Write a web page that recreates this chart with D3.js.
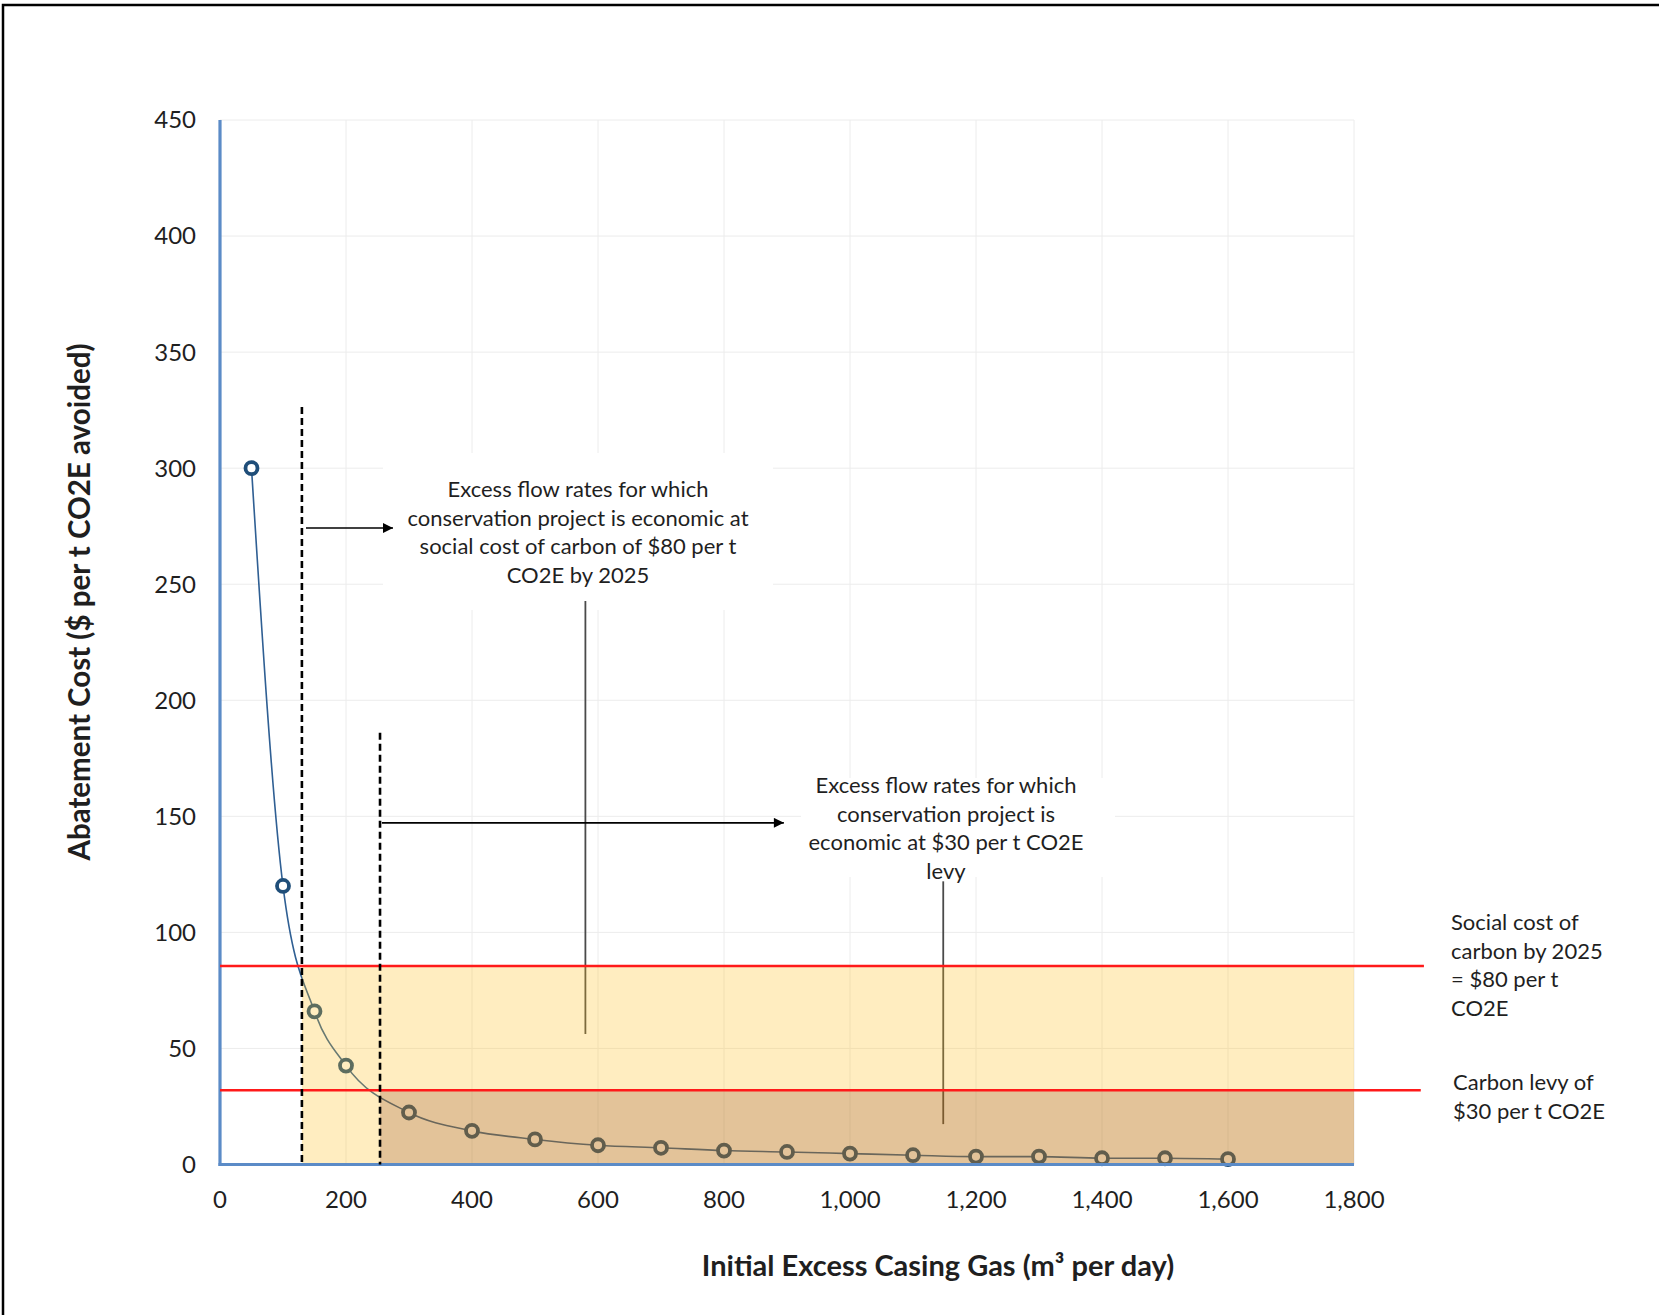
<!DOCTYPE html>
<html>
<head>
<meta charset="utf-8">
<script src="https://cdn.jsdelivr.net/npm/d3@7"></script>
<style>
  html, body { margin: 0; padding: 0; background: #ffffff; }
  svg { display: block; }
  text { font-family: Lato, "Open Sans", sans-serif; fill: #1f1f1f; }
</style>
</head>
<body>
<svg id="chart" width="1659" height="1315"></svg>
<script>
// ---------------- data ----------------
const flowRates = [50, 100, 150, 200, 300, 400, 500, 600, 700, 800, 900, 1000, 1100, 1200, 1300, 1400, 1500, 1600];
const abatementCost = [300, 120, 66, 42.6, 22.4, 14.5, 10.8, 8.3, 7.2, 6.0, 5.4, 4.7, 4.0, 3.4, 3.4, 2.7, 2.7, 2.3];

const xTickValues = [0, 200, 400, 600, 800, 1000, 1200, 1400, 1600, 1800];
const yTickValues = [0, 50, 100, 150, 200, 250, 300, 350, 400, 450];

const socialCostLevel = 85.5;   // drawn level of the "$80" social cost line
const carbonLevyLevel = 32;     // drawn level of the "$30" levy line
const socialThreshold = 130;    // flow rate where curve meets social cost line
const levyThreshold = 254;      // flow rate where curve meets levy line

const annotation1 = ["Excess flow rates for which", "conservation project is economic at", "social cost of carbon of $80 per t", "CO2E by 2025"];
const annotation2 = ["Excess flow rates for which", "conservation project is", "economic at $30 per t CO2E", "levy"];
const socialLabel = ["Social cost of", "carbon by 2025", "= $80 per t", "CO2E"];
const levyLabel = ["Carbon levy of", "$30 per t CO2E"];
const xTitle = "Initial Excess Casing Gas (m³ per day)";
const yTitle = "Abatement Cost ($ per t CO2E avoided)";

// ---------------- layout ----------------
const svg = d3.select("#chart");
const x = d3.scaleLinear().domain([0, 1800]).range([220, 1354]);
const y = d3.scaleLinear().domain([0, 450]).range([1164.5, 120]);

// outer frame
svg.append("rect").attr("x", 3).attr("y", 5).attr("width", 1720).attr("height", 1400)
  .attr("fill", "none").attr("stroke", "#000").attr("stroke-width", 2.5);

// gridlines
const grid = svg.append("g");
grid.selectAll("line.v").data(xTickValues.filter(d => d > 0)).join("line")
  .attr("x1", d => x(d)).attr("x2", d => x(d)).attr("y1", y(450)).attr("y2", y(0))
  .attr("stroke", "#ececec").attr("stroke-width", 1);
grid.selectAll("line.h").data(yTickValues.filter(d => d > 0)).join("line")
  .attr("x1", x(0)).attr("x2", x(1800)).attr("y1", d => y(d)).attr("y2", d => y(d))
  .attr("stroke", "#ececec").attr("stroke-width", 1);

// annotation background boxes (hide gridlines)
svg.append("rect").attr("x", 383).attr("y", 453).attr("width", 390).attr("height", 157).attr("fill", "#fff");
svg.append("rect").attr("x", 801).attr("y", 778).attr("width", 314).attr("height", 99).attr("fill", "#fff");

// pointer lines
svg.append("line").attr("x1", x(580)).attr("x2", x(580)).attr("y1", y(242.8)).attr("y2", y(56.2))
  .attr("stroke", "#4a4a4a").attr("stroke-width", 1.8);
svg.append("line").attr("x1", x(1148)).attr("x2", x(1148)).attr("y1", y(122)).attr("y2", y(17.4))
  .attr("stroke", "#4a4a4a").attr("stroke-width", 1.8);

// series
const line = d3.line().x((d, i) => x(flowRates[i])).y(d => y(d)).curve(d3.curveMonotoneX);
svg.append("path").datum(abatementCost).attr("d", line)
  .attr("fill", "none").attr("stroke", "#2f5f93").attr("stroke-width", 1.6);
svg.append("g").selectAll("circle").data(abatementCost).join("circle")
  .attr("cx", (d, i) => x(flowRates[i])).attr("cy", d => y(d)).attr("r", 6)
  .attr("fill", "#fff").attr("stroke", "#1f4e79").attr("stroke-width", 3.8);

// shaded regions (translucent overlays)
svg.append("rect").attr("x", x(socialThreshold)).attr("y", y(socialCostLevel))
  .attr("width", x(1800) - x(socialThreshold)).attr("height", y(0) - y(socialCostLevel))
  .attr("fill", "rgb(255,190,27)").attr("fill-opacity", 0.28);
svg.append("rect").attr("x", x(levyThreshold)).attr("y", y(carbonLevyLevel))
  .attr("width", x(1800) - x(levyThreshold)).attr("height", y(0) - y(carbonLevyLevel))
  .attr("fill", "rgb(115,32,0)").attr("fill-opacity", 0.2);

// axes lines
svg.append("line").attr("x1", x(0)).attr("x2", x(0)).attr("y1", y(450)).attr("y2", y(0) + 1.5)
  .attr("stroke", "#5b8bc7").attr("stroke-width", 3.2);
svg.append("line").attr("x1", x(0) - 1.5).attr("x2", x(1800)).attr("y1", y(0)).attr("y2", y(0))
  .attr("stroke", "#5b8bc7").attr("stroke-width", 3.2);

// red reference lines
svg.append("line").attr("x1", x(0)).attr("x2", x(1911)).attr("y1", y(socialCostLevel)).attr("y2", y(socialCostLevel))
  .attr("stroke", "#ff1a1a").attr("stroke-width", 2.6);
svg.append("line").attr("x1", x(0)).attr("x2", x(1906)).attr("y1", y(carbonLevyLevel)).attr("y2", y(carbonLevyLevel))
  .attr("stroke", "#ff1a1a").attr("stroke-width", 2.6);

// dashed threshold lines
svg.append("line").attr("x1", x(socialThreshold)).attr("x2", x(socialThreshold)).attr("y1", y(326.4)).attr("y2", y(0))
  .attr("stroke", "#000").attr("stroke-width", 2.6).attr("stroke-dasharray", "7,4");
svg.append("line").attr("x1", x(levyThreshold)).attr("x2", x(levyThreshold)).attr("y1", y(186)).attr("y2", y(0))
  .attr("stroke", "#000").attr("stroke-width", 2.6).attr("stroke-dasharray", "7,4");

// arrows
const defs = svg.append("defs");
defs.append("marker").attr("id", "arrow").attr("viewBox", "0 0 10 10").attr("refX", 10).attr("refY", 5)
  .attr("markerWidth", 11).attr("markerHeight", 10).attr("markerUnits", "userSpaceOnUse").attr("orient", "auto")
  .append("path").attr("d", "M0,0 L10,5 L0,10 Z").attr("fill", "#000");
svg.append("line").attr("x1", x(136.5)).attr("x2", x(274.6)).attr("y1", y(274.2)).attr("y2", y(274.2))
  .attr("stroke", "#000").attr("stroke-width", 1.6).attr("marker-end", "url(#arrow)");
svg.append("line").attr("x1", x(257)).attr("x2", x(895)).attr("y1", y(147.2)).attr("y2", y(147.2))
  .attr("stroke", "#000").attr("stroke-width", 1.6).attr("marker-end", "url(#arrow)");

// tick labels
svg.append("g").selectAll("text").data(yTickValues).join("text")
  .attr("x", 196).attr("y", d => y(d)).attr("dy", "0.35em").attr("text-anchor", "end")
  .attr("font-size", 24).text(d3.format(","));
svg.append("g").selectAll("text").data(xTickValues).join("text")
  .attr("x", d => x(d)).attr("y", 1200).attr("dy", "0.35em").attr("text-anchor", "middle")
  .attr("font-size", 24).text(d3.format(","));

// axis titles
svg.append("text").attr("transform", "translate(80,602) rotate(-90)").attr("text-anchor", "middle")
  .attr("dy", "0.35em").attr("font-size", 29.5).attr("font-weight", "bold").attr("fill", "#000").text(yTitle);
svg.append("text").attr("x", 938).attr("y", 1266).attr("text-anchor", "middle")
  .attr("dy", "0.35em").attr("font-size", 29).attr("font-weight", "bold").attr("fill", "#000").text(xTitle);

// annotation texts
function block(lines, cx, y0, anchor) {
  svg.append("g").selectAll("text").data(lines).join("text")
    .attr("x", cx).attr("y", (d, i) => y0 + i * 28.7).attr("text-anchor", anchor)
    .attr("font-size", 22).text(d => d);
}
block(annotation1, 578, 497, "middle");
block(annotation2, 946, 793, "middle");
block(socialLabel, 1451, 930, "start");
block(levyLabel, 1453, 1090, "start");
</script>
</body>
</html>
